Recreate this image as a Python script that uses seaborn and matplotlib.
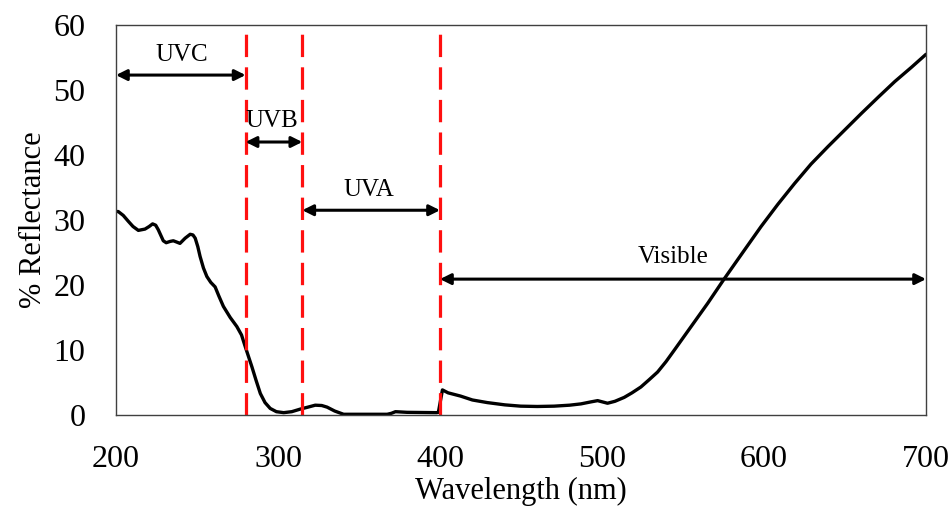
import matplotlib
matplotlib.use("Agg")
import matplotlib.pyplot as plt
import pandas as pd
import seaborn as sns

# Reflectance spectrum
wavelength = [200, 201.4, 204.5, 207.6, 210.5, 213.8, 217.9, 220.5, 222.6, 224.5,
              226.1, 229.2, 231.0, 233.4, 235.4, 237.5, 239.5, 242.7, 245.8, 247.5,
              248.9, 250.5, 251.9, 254.0, 256.1, 258.5, 261.2, 263.5, 266.3, 270.5,
              274.6, 277.5, 279.8, 283.9, 286.5, 289.1, 292.0, 295.2, 299.0, 303.5,
              308.5, 313.8, 318.5, 323.0, 327.0, 330.3, 335.0, 340.5, 367.4, 370.0,
              372.5, 379.7, 397.9, 399.0, 401.5, 405.0, 412.7, 420.0, 429.2, 440.0,
              449.8, 460.0, 470.4, 480.0, 487.0, 493.0, 497.3, 503.4, 508.0, 513.7,
              518.5, 524.0, 529.0, 534.3, 539.5, 544.7, 555.0, 565.3, 575.6, 588.0,
              598.2, 608.5, 618.8, 629.0, 639.5, 650.0, 660.1, 670.5, 680.7, 691.0,
              700.0]
reflectance = [31.3, 31.3, 30.7, 29.8, 29.0, 28.4, 28.6, 29.0, 29.4, 29.2,
               28.5, 26.8, 26.5, 26.7, 26.8, 26.6, 26.4, 27.2, 27.8, 27.7,
               27.2, 25.9, 24.4, 22.6, 21.3, 20.4, 19.7, 18.3, 16.7, 15.0,
               13.6, 12.3, 10.5, 7.4, 5.3, 3.3, 1.9, 1.0, 0.5, 0.35,
               0.5, 0.9, 1.2, 1.5, 1.45, 1.2, 0.6, 0.1, 0.1, 0.25,
               0.5, 0.4, 0.35, 0.4, 3.85, 3.4, 2.9, 2.3, 1.9, 1.55,
               1.35, 1.3, 1.35, 1.5, 1.7, 2.0, 2.2, 1.8, 2.1, 2.7,
               3.4, 4.3, 5.4, 6.6, 8.2, 10.0, 13.6, 17.2, 21.0, 25.4,
               29.0, 32.4, 35.6, 38.6, 41.3, 43.9, 46.4, 48.9, 51.3, 53.5,
               55.5]

# UV / visible band boundaries (nm)
boundaries = [280, 315, 400]

# band arrows: name, start, end, arrow height, label x, label y
band_names = ["UVC", "UVB", "UVA", "Visible"]
band_start = [200, 280, 315, 400]
band_end = [280, 315, 400, 700]
band_arrow_y = [52.3, 42.0, 31.5, 20.9]
band_label_x = [240.6, 296.3, 356.0, 543.8]
band_label_y = [55.4, 45.2, 34.6, 24.3]

df = pd.DataFrame({"wavelength": wavelength, "reflectance": reflectance})

sns.set_style("white")
plt.rcParams["font.family"] = ["Liberation Serif", "DejaVu Serif"]
plt.rcParams["text.color"] = "black"
plt.rcParams["axes.labelcolor"] = "black"
plt.rcParams["xtick.color"] = "black"
plt.rcParams["ytick.color"] = "black"

fig = plt.figure(figsize=(9.53, 5.11), dpi=100)
ax = fig.add_axes([0.1217, 0.188, 0.85, 0.763])

sns.lineplot(data=df, x="wavelength", y="reflectance", color="black", linewidth=2.4,
             solid_joinstyle="round", solid_capstyle="round", ax=ax)

for b in boundaries:
    ax.axvline(b, color="#ff1010", linewidth=2.3, dashes=(7, 3.2))

for name, x0, x1, ya, lx, ly in zip(band_names, band_start, band_end, band_arrow_y,
                                    band_label_x, band_label_y):
    ax.annotate("", xy=(x1, ya), xytext=(x0, ya),
                arrowprops=dict(arrowstyle="<|-|>", color="black", lw=2.2,
                                mutation_scale=16, shrinkA=0, shrinkB=0))
    ax.text(lx, ly, name, ha="center", va="center", fontsize=18)

ax.set_xlim(200, 700)
ax.set_ylim(0, 60)
ax.set_xticks([200, 300, 400, 500, 600, 700])
ax.set_yticks([0, 10, 20, 30, 40, 50, 60])
ax.tick_params(axis="both", length=0, labelsize=23)
ax.tick_params(axis="x", pad=22)
ax.tick_params(axis="y", pad=22)
ax.set_xlabel("Wavelength (nm)", fontsize=22, labelpad=2)
ax.set_ylabel("% Reflectance", fontsize=22, labelpad=4)
for s in ax.spines.values():
    s.set_color("#404040")
    s.set_linewidth(1.0)

fig.savefig("out.png", dpi=100)
